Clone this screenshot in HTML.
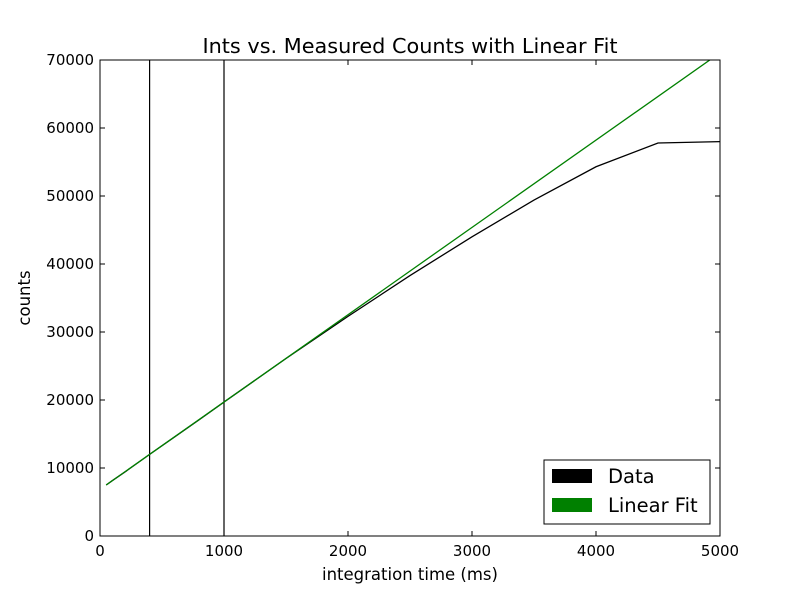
<!DOCTYPE html>
<html><head><meta charset="utf-8"><style>body{margin:0;background:#fff}svg{display:block}text{font-family:"DejaVu Sans","Liberation Sans",sans-serif}</style></head>
<body>
<svg id="chart" width="800" height="595">
<defs><clipPath id="plotclip"><rect x="100" y="60" width="620" height="476"/></clipPath></defs>
<rect x="0" y="0" width="800" height="595" fill="#fff"/>
<text x="410" y="53" font-size="20.8" text-anchor="middle">Ints vs. Measured Counts with Linear Fit</text>
<g id="axes"></g>
<g id="series" clip-path="url(#plotclip)"></g>
<rect x="100" y="60" width="620" height="476" fill="none" stroke="#000" stroke-width="1"/>
<text x="410" y="580" font-size="16.5" text-anchor="middle">integration time (ms)</text>
<text x="30" y="298" font-size="16.5" text-anchor="middle" transform="rotate(-90 30 298)">counts</text>
<g>
<rect x="544" y="460" width="166" height="64" fill="#fff" stroke="#000"/>
<rect x="552" y="469" width="40" height="14" fill="#000"/>
<text x="608" y="483" font-size="19.5">Data</text>
<rect x="552" y="498" width="40" height="14" fill="#008000"/>
<text x="608" y="512" font-size="19.5">Linear Fit</text>
</g>
</svg>
<script>
const xTicks = [0, 1000, 2000, 3000, 4000, 5000];
const yTicks = [0, 10000, 20000, 30000, 40000, 50000, 60000, 70000];
const dataX = [50, 100, 200, 400, 600, 800, 1000, 1500, 2000, 2500, 3000, 3500, 4000, 4500, 5000];
const dataY = [7500, 8150, 9400, 12000, 14550, 17100, 19700, 26100, 32300, 38300, 44000, 49400, 54300, 57800, 58000];
const fitSlope = [12.84];
const fitIntercept = [6860];
const fitRange = [50, 5000];
const vLines = [400, 1000];

const NS = "http://www.w3.org/2000/svg";
const X0 = 100, X1 = 720, Y0 = 536, Y1 = 60;
const sx = v => X0 + (v - 0) / 5000 * (X1 - X0);
const sy = v => Y0 - (v - 0) / 70000 * (Y0 - Y1);
function mk(tag, attrs, parent) { const e = document.createElementNS(NS, tag); for (const k in attrs) e.setAttribute(k, attrs[k]); parent.appendChild(e); return e; }
const axes = document.getElementById("axes");
const series = document.getElementById("series");
xTicks.forEach(t => {
  const x = sx(t);
  const a = mk("line", {x1: x, x2: x, y1: Y0, y2: Y0 - 5, stroke: "#000"}, axes);
  
  
  const b = mk("line", {x1: x, x2: x, y1: Y1, y2: Y1 + 5, stroke: "#000"}, axes);
  
  
  const l = mk("text", {x: x, y: Y0 + 20, "font-size": 15, "text-anchor": "middle"}, axes);
  l.textContent = t;
  
  
});
yTicks.forEach(t => {
  const y = sy(t);
  const a = mk("line", {x1: X0, x2: X0 + 5, y1: y, y2: y, stroke: "#000"}, axes);
  
  
  const b = mk("line", {x1: X1, x2: X1 - 5, y1: y, y2: y, stroke: "#000"}, axes);
  
  
  const l = mk("text", {x: X0 - 6, y: y + 5, "font-size": 15, "text-anchor": "end"}, axes);
  l.textContent = t;
  
  
});
vLines.forEach(v => {
  const ln = mk("line", {x1: sx(v), x2: sx(v), y1: Y0, y2: Y1, stroke: "#000", "stroke-width": 1.2}, series);
  
  
});
const dpts = dataX.map((x, i) => sx(x) + "," + sy(dataY[i])).join(" ");
const dl = mk("polyline", {points: dpts, fill: "none", stroke: "#000", "stroke-width": 1.3}, series);


const f = v => fitSlope[0] * v + fitIntercept[0];
const fl = mk("line", {x1: sx(fitRange[0]), y1: sy(f(fitRange[0])), x2: sx(fitRange[1]), y2: sy(f(fitRange[1])), stroke: "#008000", "stroke-width": 1.3}, series);


</script>
</body></html>
